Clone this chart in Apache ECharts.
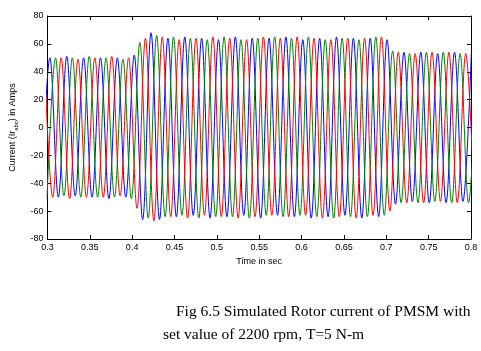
<!DOCTYPE html>
<html>
<head>
<meta charset="utf-8">
<script src="https://cdn.jsdelivr.net/npm/echarts@6/dist/echarts.min.js"></script>
<style>
  html, body { margin: 0; padding: 0; background: #fff; }
  #chart { width: 481px; height: 351px; }
</style>
</head>
<body>
<div id="chart"></div>
<script>
// tick labels
var xTickLabels = ['0.3', '0.35', '0.4', '0.45', '0.5', '0.55', '0.6', '0.65', '0.7', '0.75', '0.8']
var yTickLabels = ['-80', '-60', '-40', '-20', '0', '20', '40', '60', '80']

// time between successive peak and trough (~0.0199 s period)
var halfPeriod = 0.00995
// time of the first peak/trough of each phase (just before 0.3 s)
var startA = 0.2930 // blue
var startB = 0.2996 // green
var startC = 0.2963 // red

// peak / trough values of each phase, one per half cycle
var peaksBlue = [
  -50, 50, -50, 51, -49, 50, -50, 50, -51, 50,
  -50, 52, -66, 68, -66, 64, -64, 65, -63, 64,
  -65, 63, -64, 65, -63, 64, -65, 64, -63, 65,
  -64, 63, -65, 64, -64, 65, -63, 64, -65, 64,
  -64, 63, -55, 54, -53, 54, -54, 53, -54, 54,
  -53, 54
]
var peaksGreen = [
  -50, 50, -49, 50, -50, 51, -50, 50, -50, 49,
  -51, 61, -65, 66, -64, 65, -63, 64, -65, 63,
  -64, 65, -64, 63, -65, 64, -63, 65, -64, 64,
  -63, 65, -64, 63, -65, 64, -64, 63, -64, 65,
  -63, 55, -54, 53, -54, 54, -53, 54, -54, 53,
  -54, 54
]
var peaksRed = [
  50, -50, 50, -51, 49, -50, 50, -50, 51, -49,
  50, -58, 64, -67, 65, -64, 63, -65, 64, -63,
  65, -64, 64, -65, 63, -64, 65, -63, 64, -64,
  65, -63, 64, -65, 63, -64, 64, -65, 64, -63,
  65, -60, 54, -54, 53, -54, 54, -53, 54, -54,
  53, -54
]

var chart = echarts.init(document.getElementById('chart'))

function toPoints(start, values) {
  return values.map(function (v, k) {
    return [start + k * halfPeriod, v]
  })
}

function xLabel(v) {
  return xTickLabels[Math.round((v - 0.3) / 0.05)]
}
function yLabel(v) {
  return yTickLabels[Math.round((v + 80) / 20)]
}

var axisFont = { fontFamily: 'Liberation Sans', fontSize: 9, color: '#000' }
var boxLine = { onZero: false, lineStyle: { color: '#000', width: 1 } }
var inTick = { inside: true, length: 4, lineStyle: { color: '#000' } }

function phase(name, color, start, values) {
  return {
    name: name,
    type: 'line',
    data: toPoints(start, values),
    showSymbol: false,
    smooth: 0.364,
    clip: true,
    lineStyle: { color: color, width: 1 },
    itemStyle: { color: color },
    emphasis: { disabled: true }
  }
}

var option = {
  backgroundColor: '#fff',
  animation: false,
  grid: {
    left: 40,
    right: 10,
    top: 16,
    bottom: 112
  },
  xAxis: [
    {
      type: 'value',
      min: 0.3,
      max: 0.8,
      interval: 0.05,
      name: 'Time in sec',
      nameLocation: 'middle',
      nameGap: 18,
      nameTextStyle: axisFont,
      axisLine: boxLine,
      axisTick: inTick,
      axisLabel: Object.assign({ margin: 4, formatter: xLabel }, axisFont),
      splitLine: { show: false }
    },
    {
      type: 'value',
      position: 'top',
      min: 0.3,
      max: 0.8,
      interval: 0.05,
      axisLine: boxLine,
      axisTick: inTick,
      axisLabel: { show: false },
      splitLine: { show: false }
    }
  ],
  yAxis: [
    {
      type: 'value',
      min: -80,
      max: 80,
      interval: 20,
      name: '{a|Current (Ir}{b|abc}{a|) in Amps}',
      nameLocation: 'middle',
      nameRotate: 90,
      nameGap: 24,
      nameTextStyle: {
        rich: {
          a: { fontFamily: 'Liberation Sans', fontSize: 9, color: '#000', lineHeight: 14, verticalAlign: 'middle' },
          b: { fontFamily: 'Liberation Sans', fontSize: 6, color: '#000', lineHeight: 14, verticalAlign: 'bottom' }
        }
      },
      axisLine: boxLine,
      axisTick: inTick,
      axisLabel: Object.assign({ margin: 4, formatter: yLabel }, axisFont),
      splitLine: { show: false }
    },
    {
      type: 'value',
      position: 'right',
      min: -80,
      max: 80,
      interval: 20,
      axisLine: boxLine,
      axisTick: inTick,
      axisLabel: { show: false },
      splitLine: { show: false }
    }
  ],
  graphic: [
    {
      type: 'text',
      left: 176,
      top: 304,
      style: {
        text: 'Fig 6.5 Simulated Rotor current of PMSM with',
        font: '15.5px "Liberation Serif"',
        fill: '#000'
      }
    },
    {
      type: 'text',
      left: 163,
      top: 327,
      style: {
        text: 'set value of 2200 rpm, T=5 N-m',
        font: '15.5px "Liberation Serif"',
        fill: '#000'
      }
    }
  ],
  series: [
    phase('Ia', '#0000ff', startA, peaksBlue),
    phase('Ib', '#008000', startB, peaksGreen),
    phase('Ic', '#ff0000', startC, peaksRed)
  ]
}

chart.setOption(option)
</script>
</body>
</html>
